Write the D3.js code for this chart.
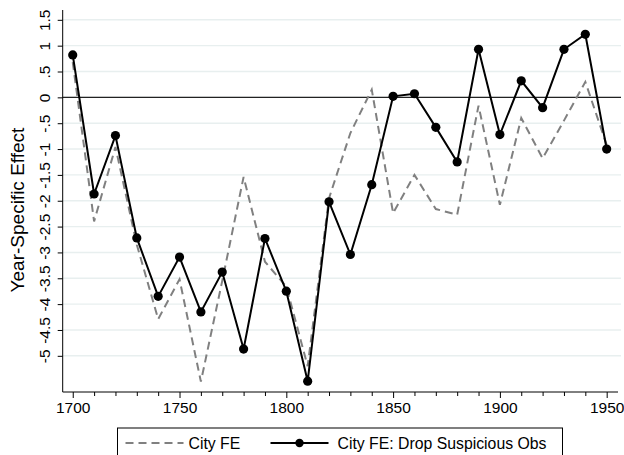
<!DOCTYPE html>
<html>
<head>
<meta charset="utf-8">
<script src="https://cdn.jsdelivr.net/npm/d3@7"></script>
<style>
  body { margin: 0; background: #fff; }
  text { font-family: "Liberation Sans", Arial, sans-serif; fill: #000; }
</style>
</head>
<body>
<div id="chart"></div>
<script>
// years on the x axis
var years = [1700, 1710, 1720, 1730, 1740, 1750, 1760, 1770, 1780, 1790,
             1800, 1810, 1820, 1830, 1840, 1850, 1860, 1870, 1880, 1890,
             1900, 1910, 1920, 1930, 1940, 1950];

// City FE (dashed grey)
var cityFE = [0.68, -2.4, -0.96, -2.85, -4.29, -3.52, -5.5, -3.55, -1.54, -3.18,
              -3.66, -5.2, -1.95, -0.69, 0.15, -2.24, -1.5, -2.16, -2.27, -0.16,
              -2.08, -0.4, -1.18, -0.45, 0.3, -0.92];

// City FE: Drop Suspicious Obs (solid black with markers)
var cityFEDrop = [0.82, -1.87, -0.74, -2.72, -3.85, -3.09, -4.15, -3.38, -4.87, -2.73,
                  -3.75, -5.49, -2.02, -3.04, -1.69, 0.02, 0.07, -0.58, -1.25, 0.93,
                  -0.72, 0.32, -0.2, 0.93, 1.22, -1.0];

var yTicks = [1.5, 1, 0.5, 0, -0.5, -1, -1.5, -2, -2.5, -3, -3.5, -4, -4.5, -5];
var xMajor = [1700, 1750, 1800, 1850, 1900, 1950];
var xMinor = [1710, 1720, 1730, 1740, 1760, 1770, 1780, 1790, 1810, 1820, 1830, 1840,
              1860, 1870, 1880, 1890, 1910, 1920, 1930, 1940];

var w = 624, h = 455;
var padLeft = 62.7, padRight = 618, padTop = 10, padBottom = 392;
var tickFont = "15.5px";

var svg = d3.select("#chart").append("svg")
    .attr("width", w)
    .attr("height", h);

var x = d3.scaleLinear().domain([1695.3, 1955.3]).range([padLeft, padRight]);
var y = d3.scaleLinear().domain([-5.7, 1.69]).range([padBottom, padTop]);

// label format: ".5", "-1.5", "0"
function fmt(v) {
    var s = String(v);
    return s.replace(/^0\./, ".").replace(/^-0\./, "-.");
}

// light grid lines
svg.selectAll(".grid")
    .data(yTicks)
    .enter().append("line")
    .attr("x1", padLeft)
    .attr("x2", 621)
    .attr("y1", function (d) { return y(d); })
    .attr("y2", function (d) { return y(d); })
    .attr("stroke", "#e8efef")
    .attr("stroke-width", 1.4);

// zero reference line
svg.append("line")
    .attr("x1", padLeft).attr("x2", 621)
    .attr("y1", y(0)).attr("y2", y(0))
    .attr("stroke", "#222")
    .attr("stroke-width", 1.2);

// y axis
var yAxis = svg.append("g")
    .attr("transform", "translate(" + padLeft + ",0)")
    .call(d3.axisLeft(y).tickValues(yTicks).tickSize(5).tickFormat(fmt));
yAxis.select(".domain").attr("d", "M0," + padTop + "V" + padBottom).attr("stroke", "#000");
yAxis.selectAll(".tick line").attr("stroke", "#000");
yAxis.selectAll(".tick text")
    .attr("x", null).attr("dy", null)
    .attr("text-anchor", "middle")
    .attr("transform", "translate(-12.5,0) rotate(-90)")
    .style("font-size", tickFont)
    .style("font-family", "Liberation Sans, Arial, sans-serif");

// x axis, major ticks with labels
var xAxis = svg.append("g")
    .attr("transform", "translate(0," + padBottom + ")")
    .call(d3.axisBottom(x).tickValues(xMajor).tickSize(6).tickPadding(4).tickFormat(d3.format("d")));
xAxis.select(".domain").attr("d", "M" + padLeft + ",0H" + padRight).attr("stroke", "#000");
xAxis.selectAll(".tick line").attr("stroke", "#000");
xAxis.selectAll(".tick text")
    .style("font-size", tickFont)
    .style("font-family", "Liberation Sans, Arial, sans-serif");

// minor ticks
svg.append("g")
    .attr("transform", "translate(0," + padBottom + ")")
    .call(d3.axisBottom(x).tickValues(xMinor).tickSize(4).tickFormat(""))
    .call(function (g) { g.select(".domain").remove(); })
    .selectAll(".tick line").attr("stroke", "#000");

// y axis title
svg.append("text")
    .attr("transform", "translate(17.5,210) rotate(-90)")
    .attr("text-anchor", "middle")
    .attr("dy", "0.35em")
    .style("font-size", "19px")
    .text("Year-Specific Effect");

var line = d3.line()
    .x(function (d) { return x(d[0]); })
    .y(function (d) { return y(d[1]); });

// City FE dashed
svg.append("path")
    .datum(d3.zip(years, cityFE))
    .attr("d", line)
    .attr("fill", "none")
    .attr("stroke", "#808080")
    .attr("stroke-width", 2)
    .attr("stroke-dasharray", "8,5");

// Drop suspicious obs
var dropData = d3.zip(years, cityFEDrop);
svg.append("path")
    .datum(dropData)
    .attr("d", line)
    .attr("fill", "none")
    .attr("stroke", "#000")
    .attr("stroke-width", 2);

svg.selectAll(".dot")
    .data(dropData)
    .enter().append("circle")
    .attr("cx", function (d) { return x(d[0]); })
    .attr("cy", function (d) { return y(d[1]); })
    .attr("r", 4.6)
    .attr("fill", "#000");

//--------
// Legend
//--------
var legend = svg.append("g").attr("transform", "translate(117.5,428)");
legend.append("rect")
    .attr("width", 445)
    .attr("height", 40)
    .attr("fill", "#fff")
    .attr("stroke", "#000")
    .attr("stroke-width", 1);

legend.append("line")
    .attr("x1", 8).attr("x2", 66)
    .attr("y1", 15).attr("y2", 15)
    .attr("stroke", "#808080")
    .attr("stroke-width", 2)
    .attr("stroke-dasharray", "8,5");
legend.append("text")
    .attr("x", 71).attr("y", 15)
    .attr("dy", "0.35em")
    .style("font-size", "15.8px")
    .text("City FE");

legend.append("line")
    .attr("x1", 153).attr("x2", 211)
    .attr("y1", 15).attr("y2", 15)
    .attr("stroke", "#000")
    .attr("stroke-width", 2);
legend.append("circle")
    .attr("cx", 182).attr("cy", 15)
    .attr("r", 4.2)
    .attr("fill", "#000");
legend.append("text")
    .attr("x", 220).attr("y", 15)
    .attr("dy", "0.35em")
    .style("font-size", "15.8px")
    .text("City FE: Drop Suspicious Obs");
</script>
</body>
</html>
